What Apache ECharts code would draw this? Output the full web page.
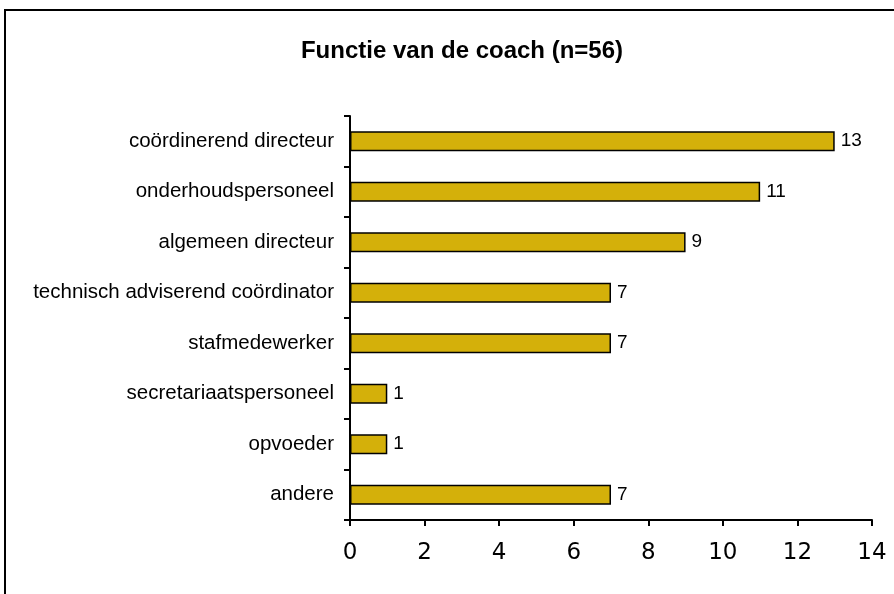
<!DOCTYPE html>
<html>
<head>
<meta charset="utf-8">
<script src="https://cdn.jsdelivr.net/npm/echarts@6/dist/echarts.min.js"></script>
<style>
    html, body { margin: 0; padding: 0; background: #fff; }
    #chart_01 { width: 894px; height: 594px; }
</style>
</head>
<body>
<div id="chart_01"></div>
<script>
var categories = ['coördinerend directeur', 'onderhoudspersoneel', 'algemeen directeur',
    'technisch adviserend coördinator', 'stafmedewerker', 'secretariaatspersoneel',
    'opvoeder', 'andere'];
var counts = [13, 11, 9, 7, 7, 1, 1, 7];
var xTicks = [0, 2, 4, 6, 8, 10, 12, 14];

var myChart = echarts.init(document.getElementById('chart_01'));
var option = {
    animation: false,
    title: {
        text: 'Functie van de coach (n=56)',
        left: 457,
        textAlign: 'center',
        top: 34,
        textStyle: {
            fontFamily: 'Liberation Sans, Arial, sans-serif',
            fontWeight: 'bold',
            fontSize: 24,
            color: '#000'
        }
    },
    graphic: [{
        type: 'rect',
        shape: { x: 5, y: 10, width: 1000, height: 1000 },
        style: { fill: 'none', stroke: '#000', lineWidth: 2 }
    }],
    grid: { left: 350, right: 22, top: 116, bottom: 74 },
    xAxis: {
        type: 'value',
        min: xTicks[0],
        max: xTicks[xTicks.length - 1],
        interval: 2,
        axisLine: { show: true, lineStyle: { color: '#000', width: 2 } },
        axisTick: { show: true, length: 6, lineStyle: { color: '#000', width: 2 } },
        axisLabel: { color: '#000', fontSize: 23, margin: 22, fontFamily: 'DejaVu Sans, sans-serif' },
        splitLine: { show: false }
    },
    yAxis: {
        type: 'category',
        data: categories,
        inverse: true,
        axisLine: { lineStyle: { color: '#000', width: 2 } },
        axisTick: { show: true, length: 6, lineStyle: { color: '#000', width: 2 } },
        axisLabel: { color: '#000', fontSize: 20.5, margin: 16, fontFamily: 'Liberation Sans, Arial, sans-serif' }
    },
    series: [{
        type: 'bar',
        data: counts,
        barCategoryGap: '60%',
        itemStyle: { color: '#D4B00A', borderColor: '#000', borderWidth: 1.5 },
        label: {
            show: true,
            position: 'right',
            distance: 6,
            color: '#000',
            fontSize: 19,
            fontFamily: 'Liberation Sans, Arial, sans-serif'
        }
    }]
};
myChart.setOption(option);
</script>
</body>
</html>
